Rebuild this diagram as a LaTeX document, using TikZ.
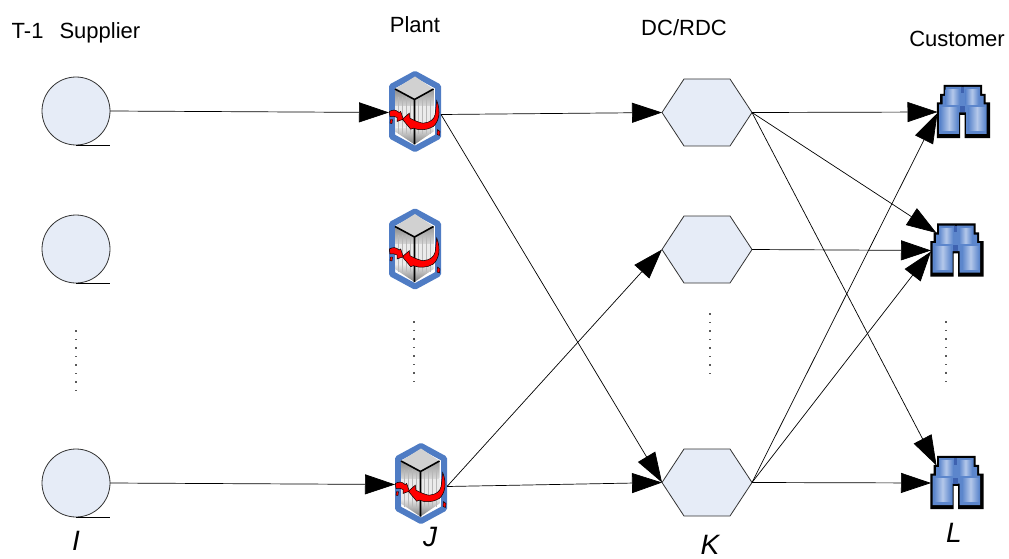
\documentclass[tikz,border=0pt]{standalone}
\usepackage{fontspec}
\setmainfont{Liberation Sans}
\usetikzlibrary{arrows.meta}
\definecolor{paleblue}{HTML}{E6ECF7}
\definecolor{hexblue}{HTML}{4F7CC4}
\definecolor{binblue}{HTML}{5C86CC}
\definecolor{bindark}{HTML}{3E62B0}
\definecolor{binlight}{HTML}{B4C8EA}
\tikzset{
  x=1pt,y=-1pt,
  lbl/.style={font=\fontsize{22}{26}\selectfont,inner sep=0pt},
  axis/.style={font=\itshape\fontsize{28}{32}\selectfont,inner sep=0pt},
  supplier/.style={circle,draw=black!80,fill=paleblue,line width=0.8pt,minimum size=68pt,inner sep=0pt,outer sep=0pt},
  tail/.style={draw=black,line width=0.8pt},
  iconbox/.style={rectangle,inner sep=0pt,outer sep=0pt,minimum width=#1},
  flow/.style={draw=black,line width=0.7pt,-{Triangle[length=30pt,width=20pt,fill=black]}},
  dotcol/.style={fill=black!65},
  dc/.pic={
    \draw[draw=black!80,fill=paleblue,line width=0.8pt,line join=round] (-45,0)--(-23,-33.5)--(23,-33.5)--(45,0)--(23,33.5)--(-23,33.5)--cycle;
    \node[iconbox=90pt,minimum height=67pt] (box) at (0,0) {};
  },
  plant/.pic={
    \node[iconbox=52pt,minimum height=81pt] (box) at (0,0) {};
    \coordinate (in) at (-26,1);
    \coordinate (out) at (26,3);
    \draw[hexblue,line width=6pt,line join=round,fill=white] (0,-37.5)--(23,-25)--(23,25)--(0,37.5)--(-23,25)--(-23,-25)--cycle;
    \fill[black!18] (0,-35)--(18.5,-22.5)--(-0.5,-12)--(-20,-22.5)--cycle;
    \shade[top color=black!45,bottom color=black!8] (-20,-22.5)--(-0.5,-12)--(-0.5,0)--(-20,-5)--cycle;
    \shade[top color=black!40,bottom color=black!8] (18.5,-22.5)--(-0.5,-12)--(-0.5,0)--(18.5,-5)--cycle;
    \fill[black!8] (-20,-5) rectangle (18.5,16);
    \shade[top color=black!10,bottom color=black!50] (-20,16)--(18.5,16)--(18.5,20)--(-0.5,33)--(-20,20)--cycle;
    \foreach \sx in {-17,-13,-9,-5,3,7,11,15}{\draw[black!28,line width=0.9pt] (\sx,-14)--(\sx,23);}
    \draw[black,line width=1.6pt] (-20,-22.5)--(-0.5,-12)--(18.5,-22.5) (-0.5,-12)--(-0.5,33);
    \draw[black,line width=0.5pt,fill=red] (21.7,-11) .. controls (26,0) and (24,10) .. (18.3,15) .. controls (12,19) and (4,19) .. (-1.7,16.7) -- (-4.3,17.7) -- (-12.7,7.7) -- (-5.7,1.7) -- (-5,6.7) .. controls (1,10) and (6,11.5) .. (8.3,11.7) .. controls (15,11) and (19,8) .. (20,3.3) .. controls (21,-2) and (21,-6) .. (21.7,-11) -- cycle;
    \draw[black,line width=0.5pt,fill=red] (-25.7,0) .. controls (-22,-2) and (-19,-2) .. (-16,1) -- (-14.3,0) -- (-11.7,7.7) -- (-18,10) -- (-18,6) .. controls (-20,4) and (-23,5) .. (-25,5) -- cycle;
    \fill[red,draw=black,line width=0.4pt] (-25,11.7) -- (-24.5,8) -- (-22.5,8) -- (-23,12) -- cycle;
    \fill[red,draw=black,line width=0.4pt] (22.5,18) -- (25,20) -- (24.5,24) -- (22,23) -- cycle;
  },
  binoc/.pic={
    \node[iconbox=53pt,minimum height=53pt] (box) at (0,0) {};
    \coordinate (in) at (-26,0.5);
    \coordinate (inup) at (-20.5,-17);
    \coordinate (inlow) at (-26,1.5);
    \fill[black] (-20,-26.7)--(18.7,-26.7)--(18.7,-17.7)--(22,-17.7)--(22,-9)--(26.7,-9)--(26.7,26.7)--(1,26.7)--(1,3.3)--(-3.3,3.3)--(-3.3,26.7)--(-26.7,26.7)--(-26.7,-9)--(-23.3,-9)--(-23.3,-17.7)--(-20,-17.7)--cycle;
    \fill[binblue] (-18,-24.5)--(-2,-24.5)--(-1,-22)--(0,-24.5)--(16.5,-24.5)--(16.5,-15.5)--(20,-15.5)--(20,-7)--(23,-7)--(23,22.5)--(2.5,22.5)--(2.5,1)--(-4.5,1)--(-4.5,22.5)--(-24.5,22.5)--(-24.5,-7)--(-21,-7)--(-21,-15.5)--(-18,-15.5)--cycle;
    \shade[left color=binblue,right color=binblue,middle color=binlight] (-23,-4) rectangle (-6,19);
    \shade[left color=binblue,right color=binblue,middle color=binlight] (5,-4) rectangle (22,19);
    \shade[left color=binblue,right color=binblue,middle color=binlight] (-18,-22) rectangle (-4,-7);
    \shade[left color=binblue,right color=binblue,middle color=binlight] (2,-22) rectangle (15,-7);
    \fill[bindark] (-4,-5) rectangle (1,1);
    \fill[bindark] (-3,-24.5) rectangle (0,-18);
  }
}
\begin{document}
\begin{tikzpicture}
\useasboundingbox (0,0) rectangle (1009,559);

% labels
\node[lbl] (tS) at (76,33) {T-1\hspace{0.45em} Supplier};
\node[lbl] (tP) at (415,25) {Plant};
\node[lbl] (tD) at (684,28) {DC/RDC};
\node[lbl] (tC) at (957,39) {Customer};
\node[axis] (aI) at (76,541) {I};
\node[axis] (aJ) at (430,537) {J};
\node[axis] (aK) at (710,545) {K};
\node[axis] (aL) at (954,533) {L};

% suppliers
\node[supplier] (s1) at (76,111) {};
\node[supplier] (s2) at (76,249) {};
\node[supplier] (s3) at (76,483) {};
\foreach \n in {s1,s2,s3}{\draw[tail] (\n.south) -- (\n.east |- \n.south);}

% plants
\pic (p1) at (415,111.5) {plant};
\pic (p2) at (415,249) {plant};
\pic (p3) at (421,483.5) {plant};

% distribution centres
\pic (d1) at (707,112.5) {dc};
\pic (d2) at (707,249.5) {dc};
\pic (d3) at (707,482.5) {dc};

% customers
\pic (c1) at (963.5,111.5) {binoc};
\pic (c2) at (957,250) {binoc};
\pic (c3) at (957,482.5) {binoc};

% connectors
\draw[flow] (s1.east) -- (p1in);
\draw[flow] (s3.east) -- (p3in);
\draw[flow] (p1out) -- (d1box.west);
\draw[flow] (p1out) -- (d3box.west);
\draw[flow] (p3out) -- (d3box.west);
\draw[flow] (p3out) -- (d2box.west);
\draw[flow] (d1box.east) -- (c1in);
\draw[flow] (d1box.east) -- (c2inup);
\draw[flow] (d1box.east) -- (c3inup);
\draw[flow] (d2box.east) -- (c2in);
\draw[flow] (d3box.east) -- (c3in);
\draw[flow] (d3box.east) -- (c1inlow);
\draw[flow] (d3box.east) -- (c2inlow);

% vertical dots
\foreach \cx/\cy in {76/331,414/322,710/314,946/322}{
  \foreach \k in {0,...,7}{
    \fill[dotcol] (\cx-0.7,\cy+8.5*\k-0.7) rectangle (\cx+0.7,\cy+8.5*\k+0.7);
  }
}
\end{tikzpicture}
\end{document}
